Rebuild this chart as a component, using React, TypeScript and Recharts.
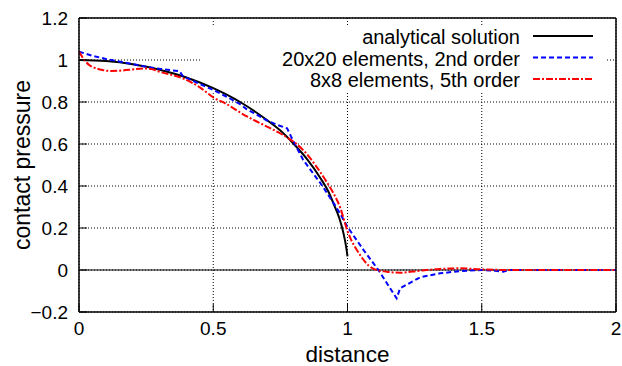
import React from 'react';
import {
  LineChart,
  Line,
  XAxis,
  YAxis,
  CartesianGrid,
  ReferenceLine,
  ReferenceArea,
  Legend,
} from 'recharts';

// ---------- data ----------
const analyticalX = [0, 0.1, 0.2, 0.3, 0.4, 0.5, 0.6, 0.7, 0.75, 0.8, 0.85, 0.9, 0.93, 0.95, 0.97, 0.985, 0.995, 1.0];
const analyticalY = [1.0, 0.995, 0.98, 0.954, 0.917, 0.866, 0.8, 0.714, 0.664, 0.6, 0.527, 0.436, 0.37, 0.31, 0.245, 0.175, 0.11, 0.065];

const order2X = [0, 0.05, 0.1, 0.15, 0.237, 0.3, 0.374, 0.386, 0.4, 0.45, 0.5, 0.55, 0.6, 0.625, 0.65, 0.7, 0.74, 0.775, 0.79, 0.8, 0.835, 0.9, 0.95, 0.972, 1.0, 1.06, 1.115, 1.183, 1.196, 1.27, 1.344, 1.42, 1.5, 1.55, 1.58, 1.6, 1.7, 1.8, 1.9, 2.0];
const order2Y = [1.04, 1.02, 1.005, 0.993, 0.971, 0.958, 0.947, 0.925, 0.915, 0.886, 0.857, 0.825, 0.79, 0.765, 0.748, 0.712, 0.69, 0.675, 0.635, 0.61, 0.524, 0.412, 0.315, 0.27, 0.205, 0.095, 0.0, -0.135, -0.087, -0.035, -0.016, -0.005, 0.0, -0.004, -0.008, 0.0, 0.0, 0.0, 0.0, 0.0];

const order5X = [0, 0.02, 0.038, 0.06, 0.088, 0.12, 0.15, 0.2, 0.237, 0.27, 0.3, 0.386, 0.45, 0.5, 0.55, 0.6, 0.65, 0.7, 0.75, 0.8, 0.835, 0.88, 0.922, 0.95, 0.972, 1.0, 1.047, 1.08, 1.102, 1.146, 1.196, 1.27, 1.344, 1.42, 1.5, 1.6, 1.8, 2.0];
const order5Y = [1.04, 1.0, 0.976, 0.962, 0.952, 0.948, 0.949, 0.955, 0.96, 0.957, 0.944, 0.913, 0.87, 0.822, 0.79, 0.75, 0.715, 0.683, 0.65, 0.61, 0.571, 0.5, 0.42, 0.36, 0.3, 0.185, 0.071, 0.02, 0.003, -0.008, -0.013, -0.003, 0.005, 0.008, 0.003, 0.0, 0.0, 0.0];

const seriesNames = ['analytical solution', '20x20 elements, 2nd order', '8x8 elements, 5th order'];
const xTicks = [0, 0.5, 1, 1.5, 2];
const yTicks = [-0.2, 0, 0.2, 0.4, 0.6, 0.8, 1, 1.2];
const xTitle = 'distance';
const yTitle = 'contact pressure';

const zip = (xs: number[], ys: number[]) => xs.map((x, i) => ({ x, y: ys[i] }));

const FONT = '"Liberation Sans", Arial, Helvetica, sans-serif';

const SERIES = [
  { name: seriesNames[0], data: zip(analyticalX, analyticalY), color: '#000000', dash: undefined as string | undefined, type: 'monotone' as const },
  { name: seriesNames[1], data: zip(order2X, order2Y), color: '#0000ff', dash: '5 3', type: 'linear' as const },
  { name: seriesNames[2], data: zip(order5X, order5Y), color: '#ff0000', dash: '7 2 2 2', type: 'monotone' as const },
];

const fmtY = (v: number) => (v < 0 ? `\u2212${Math.abs(v)}` : `${v}`);

const LegendBox = () => (
  <svg width={622} height={366} style={{ position: 'absolute', left: 0, top: 0, pointerEvents: 'none' }}>
    {SERIES.map((s, i) => {
      const cy = 36 + i * 21.5;
      return (
        <g key={s.name}>
          <text x={520} y={cy + 8} textAnchor="end" fontFamily={FONT} fontSize={20} fill="#000">
            {s.name}
          </text>
          <line x1={533} x2={593} y1={cy} y2={cy} stroke={s.color} strokeWidth={2} strokeDasharray={s.dash} />
        </g>
      );
    })}
  </svg>
);

const YTitle = (props: any) => {
  const vb = props.viewBox || { x: 0, y: 18, width: 79, height: 294 };
  const cy = vb.y + vb.height / 2;
  return (
    <text x={22} y={cy} transform={`rotate(-90, 22, ${cy})`} textAnchor="middle" dominantBaseline="central" fontFamily={FONT} fontSize={23} fill="#000">
      {yTitle}
    </text>
  );
};

const XTitle = (props: any) => {
  const vb = props.viewBox || { x: 79, y: 312, width: 537, height: 54 };
  const cx = vb.x + vb.width / 2;
  return (
    <text x={cx} y={362} textAnchor="middle" fontFamily={FONT} fontSize={22.5} fill="#000">
      {xTitle}
    </text>
  );
};

export default function App() {
  const tickStyle = { fill: '#000', fontSize: 19, fontFamily: FONT };
  return (
    <div style={{ position: 'absolute', left: 0, top: 0, width: 622, height: 366, background: '#fff' }}>
      <LineChart width={622} height={366} margin={{ top: 17, right: 5, bottom: 0, left: 0 }} style={{ fontFamily: FONT }}>
        <CartesianGrid stroke="#000" strokeDasharray="1 2" strokeWidth={1} />
        <ReferenceArea x1={0.458} x2={1.959} y1={0.848} y2={1.167} fill="#fff" fillOpacity={1} stroke="none" ifOverflow="visible" />
        <ReferenceLine y={0} stroke="#000" strokeWidth={1.2} />
        <XAxis
          type="number"
          dataKey="x"
          domain={[0, 2]}
          ticks={xTicks}
          allowDataOverflow
          height={54}
          tickSize={-8}
          tickMargin={18}
          tick={tickStyle}
          axisLine={{ stroke: '#000', strokeWidth: 1.5 }}
          tickLine={{ stroke: '#000' }}
          label={<XTitle />}
        />
        <XAxis
          xAxisId="top"
          orientation="top"
          type="number"
          domain={[0, 2]}
          ticks={xTicks}
          allowDataOverflow
          height={1}
          tickSize={-8}
          tick={false}
          axisLine={{ stroke: '#000', strokeWidth: 1.5 }}
          tickLine={{ stroke: '#000' }}
        />
        <YAxis
          type="number"
          domain={[-0.2, 1.2]}
          ticks={yTicks}
          allowDataOverflow
          width={79}
          tickSize={-8}
          tickMargin={19}
          tick={tickStyle}
          tickFormatter={fmtY}
          axisLine={{ stroke: '#000', strokeWidth: 1.5 }}
          tickLine={{ stroke: '#000' }}
          label={<YTitle />}
        />
        <YAxis
          yAxisId="right"
          orientation="right"
          type="number"
          domain={[-0.2, 1.2]}
          ticks={yTicks}
          allowDataOverflow
          width={1}
          tickSize={-8}
          tick={false}
          axisLine={{ stroke: '#000', strokeWidth: 1.5 }}
          tickLine={{ stroke: '#000' }}
        />
        {SERIES.map((s) => (
          <Line
            key={s.name}
            data={s.data}
            dataKey="y"
            name={s.name}
            type={s.type}
            stroke={s.color}
            strokeWidth={2}
            strokeDasharray={s.dash}
            dot={false}
            activeDot={false}
            isAnimationActive={false}
          />
        ))}
        <Legend
          layout="horizontal"
          verticalAlign="middle"
          align="center"
          wrapperStyle={{ position: 'absolute', left: 0, top: 0, width: 622, height: 366, margin: 0, padding: 0 }}
          content={() => <LegendBox />}
        />
      </LineChart>
    </div>
  );
}
